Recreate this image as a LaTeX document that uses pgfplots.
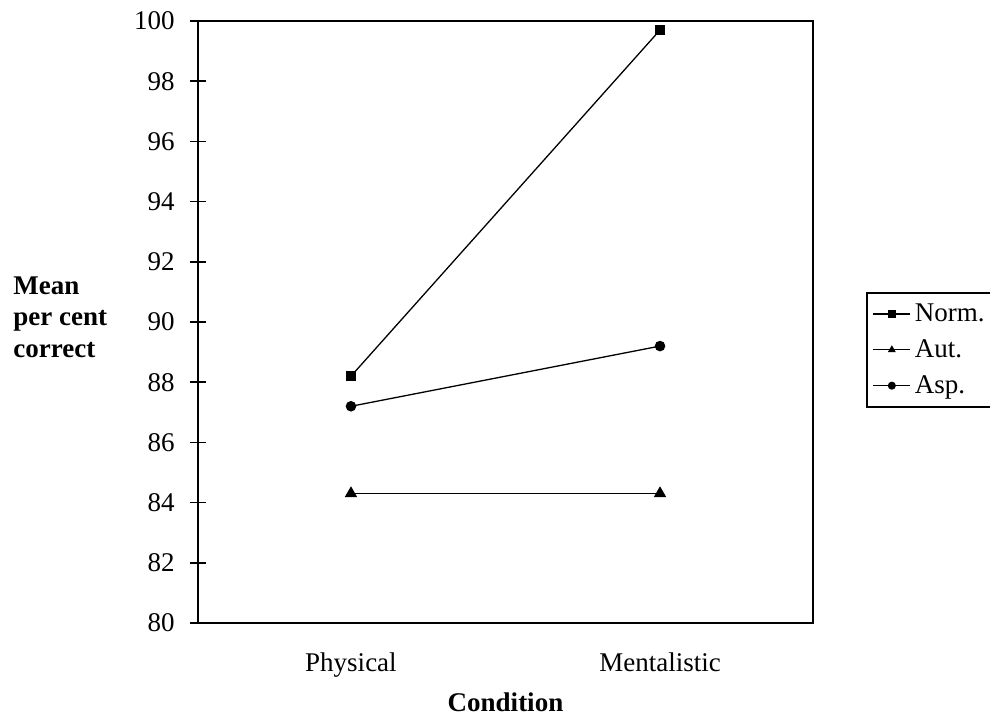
\documentclass[border=0pt]{standalone}
\usepackage{pgfplots}
\pgfplotsset{compat=1.18}
\usepackage{fontspec}
\setmainfont{Liberation Serif}

\begin{document}
\begin{tikzpicture}[font=\fontsize{13.5pt}{16pt}\selectfont]
\useasboundingbox (-99pt,-50pt) rectangle (396pt,311.5pt);
\begin{axis}[
  scale only axis, width=307.5pt, height=301pt,
  xmin=-0.495, xmax=1.495, ymin=80, ymax=100,
  xtick={0,1}, xticklabels={Physical,Mentalistic},
  ytick={80,82,...,100},
  /pgf/number format/assume math mode=true,
  axis line style={line width=0.85pt},
  tick align=center, major tick length=8pt,
  tick style={line width=0.85pt, black},
  x tick style={draw=none},
  xtick pos=bottom, ytick pos=left,
  yticklabel style={anchor=east, inner sep=0pt, xshift=-7.5pt},
  xticklabel style={anchor=base, yshift=-20pt},
  xlabel={\bfseries Condition},
  xlabel style={at={(rel axis cs:0.5,0)}, anchor=base, yshift=-44pt},
  legend style={at={(rel axis cs:1.086,0.55)}, anchor=north west,
    draw=black, line width=0.85pt, inner xsep=3pt, inner ysep=3.5pt,
    row sep=3.5pt, font=\fontsize{13.5pt}{16pt}\selectfont},
  legend cell align=left,
  legend image code/.code={
    \draw[line width=0.6pt, mark repeat=2, mark phase=2, mark size=1.7pt]
      plot coordinates {(0pt,0pt) (9.25pt,0pt) (18.5pt,0pt)};},
  clip=false,
]
\addplot[black, line width=0.65pt, mark=square*, mark size=2.1pt] coordinates {(0,88.2) (1,99.7)};
\addplot[black, line width=0.65pt, mark=triangle*, mark size=3pt] coordinates {(0,84.3) (1,84.3)};
\addplot[black, line width=0.65pt, mark=*, mark size=2.3pt] coordinates {(0,87.2) (1,89.2)};
\legend{Norm.,Aut.,Asp.}
\draw[line width=1.4pt] (rel axis cs:0,0) -- (rel axis cs:0,1);
\node[anchor=west, align=left, inner sep=0pt, font=\fontsize{13.5pt}{15.75pt}\selectfont\bfseries]
  at (rel axis cs:0,0.5) [xshift=-92.5pt, yshift=2.5pt] {Mean\\per cent\\correct};
\end{axis}
\end{tikzpicture}
\end{document}
